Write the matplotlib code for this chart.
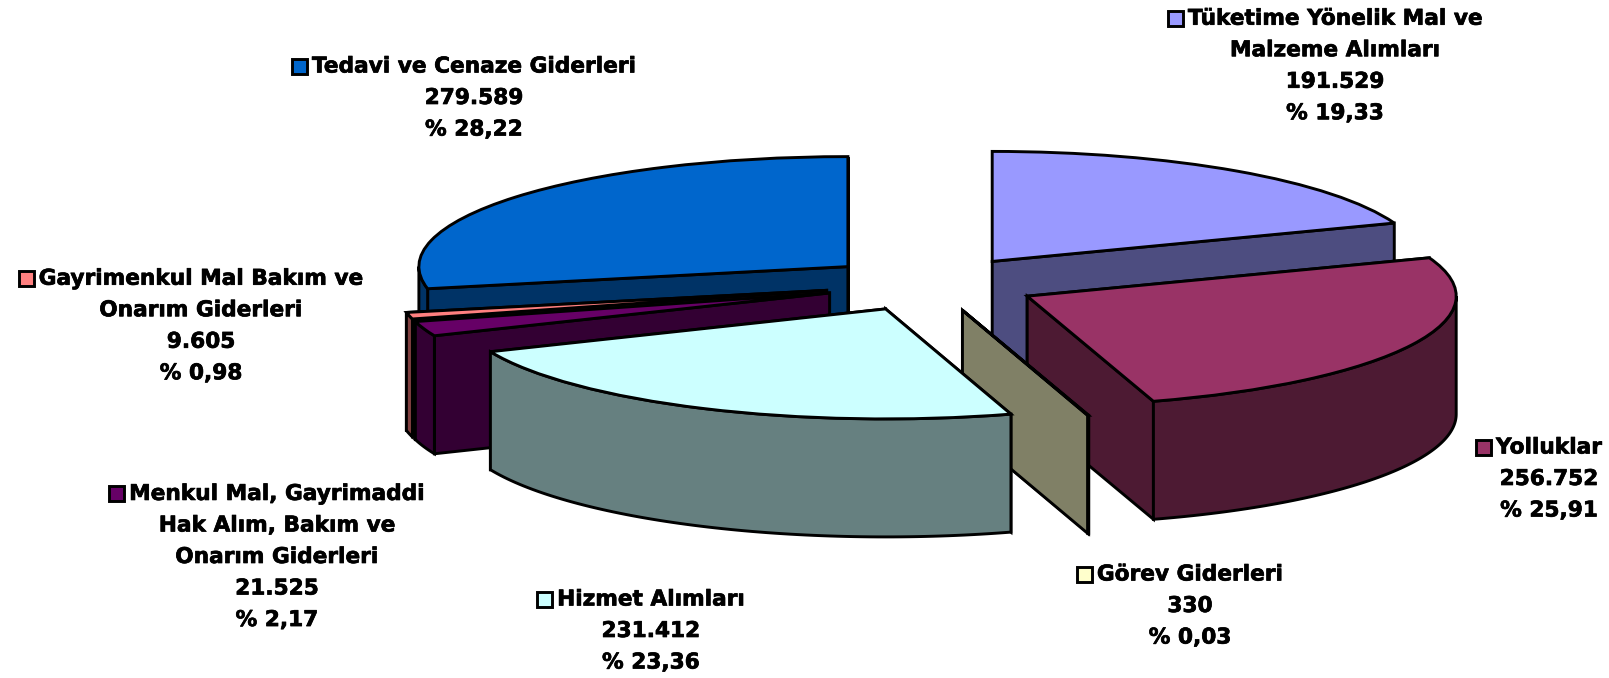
import matplotlib
matplotlib.use("Agg")
import matplotlib.pyplot as plt
import matplotlib.patheffects as pe
import numpy as np
from matplotlib.patches import Polygon, Rectangle

categories = ["Tüketime Yönelik Mal ve\nMalzeme Alımları", "Yolluklar", "Görev Giderleri",
              "Hizmet Alımları", "Menkul Mal, Gayrimaddi\nHak Alım, Bakım ve\nOnarım Giderleri",
              "Gayrimenkul Mal Bakım ve\nOnarım Giderleri", "Tedavi ve Cenaze Giderleri"]
amounts = [191.529, 256.752, 0.330, 231.412, 21.525, 9.605, 279.589]
amount_labels = ["191.529", "256.752", "330", "231.412", "21.525", "9.605", "279.589"]
percent_labels = ["% 19,33", "% 25,91", "% 0,03", "% 23,36", "% 2,17", "% 0,98", "% 28,22"]
top_colors = ["#9999FF", "#993366", "#FFFFCC", "#CCFFFF", "#660066", "#FF8080", "#0066CC"]
wall_colors = ["#4D4D80", "#4D1A33", "#808066", "#668080", "#330033", "#804040", "#003366"]
paint_order = [6, 0, 5, 4, 1, 2, 3]
label_centers = [(1335, 66), (1549, 479), (1190, 606), (651, 631), (277, 557), (201, 326), (474, 98)]

W, H = 1609, 678
CX, CY, RX, RY, DEPTH = 931, 284, 429, 110, 118
FS = 15.6
lw = 2.1

fig = plt.figure(figsize=(W / 100, H / 100), dpi=100, facecolor="white")
ax = fig.add_axes([0, 0, 1, 1])
wedges, _ = ax.pie(amounts, explode=[0.25] * len(amounts), startangle=90, counterclock=False,
                   colors=top_colors, wedgeprops=dict(edgecolor="black", linewidth=lw))
ax.set_aspect("auto")
ax.set_xlim(-CX / RX, (W - CX) / RX)
ax.set_ylim(-(H - CY) / RY, CY / RY)
ax.axis("off")
drop = DEPTH / RY


def arc(w, a, b, n=80):
    t = np.radians(np.linspace(a, b, n))
    return np.column_stack([w.center[0] + w.r * np.cos(t), w.center[1] + w.r * np.sin(t)])


z = 2
for i in paint_order:
    w = wedges[i]
    ends = sorted([w.theta1, w.theta2], key=lambda a: -np.sin(np.radians(a)))
    for a in ends:
        p = arc(w, a, a, 1)[0]
        c = np.array(w.center)
        poly = [c, p, p - [0, drop], c - [0, drop]]
        ax.add_patch(Polygon(poly, closed=True, fc=wall_colors[i], ec="black", lw=lw, zorder=z))
        z += 1
    # front-facing parts of the rim lie in 180..360 degrees of the pie's own angle
    for k in (-1, 0, 1):
        lo = max(w.theta1, 180 + 360 * k)
        hi = min(w.theta2, 360 + 360 * k)
        if hi > lo:
            top = arc(w, lo, hi)
            low = top[::-1] - [0, drop]
            ax.add_patch(Polygon(np.vstack([top, low]), closed=True, fc=wall_colors[i],
                                 ec="black", lw=lw, zorder=z))
            z += 1
    w.set_zorder(z)
    z += 1

r = fig.canvas.get_renderer()
for i, (px, py) in enumerate(label_centers):
    s = f"{categories[i]}\n{amount_labels[i]}\n{percent_labels[i]}"
    t = ax.text(px / W, 1 - py / H, s, transform=fig.transFigure, ha="center", va="center",
                fontsize=FS, fontweight="bold", family="DejaVu Sans", linespacing=1.72,
                multialignment="center", color="black", zorder=100,
                path_effects=[pe.withStroke(linewidth=0.5, foreground="black")])
    first = ax.text(0, 0, categories[i].split("\n")[0], fontsize=FS, fontweight="bold",
                    family="DejaVu Sans")
    bb1 = first.get_window_extent(r)
    first.remove()
    bb = t.get_window_extent(r)
    key_right = (bb.x0 + bb.x1) / 2 - bb1.width / 2 - 5
    key_cy = bb.y1 - bb1.height / 2
    ax.add_patch(Rectangle((key_right - 15, key_cy - 7.5), 15, 15, transform=None,
                           fc=top_colors[i], ec="black", lw=lw, zorder=100))

fig.savefig("out.png", dpi=100, facecolor="white")
